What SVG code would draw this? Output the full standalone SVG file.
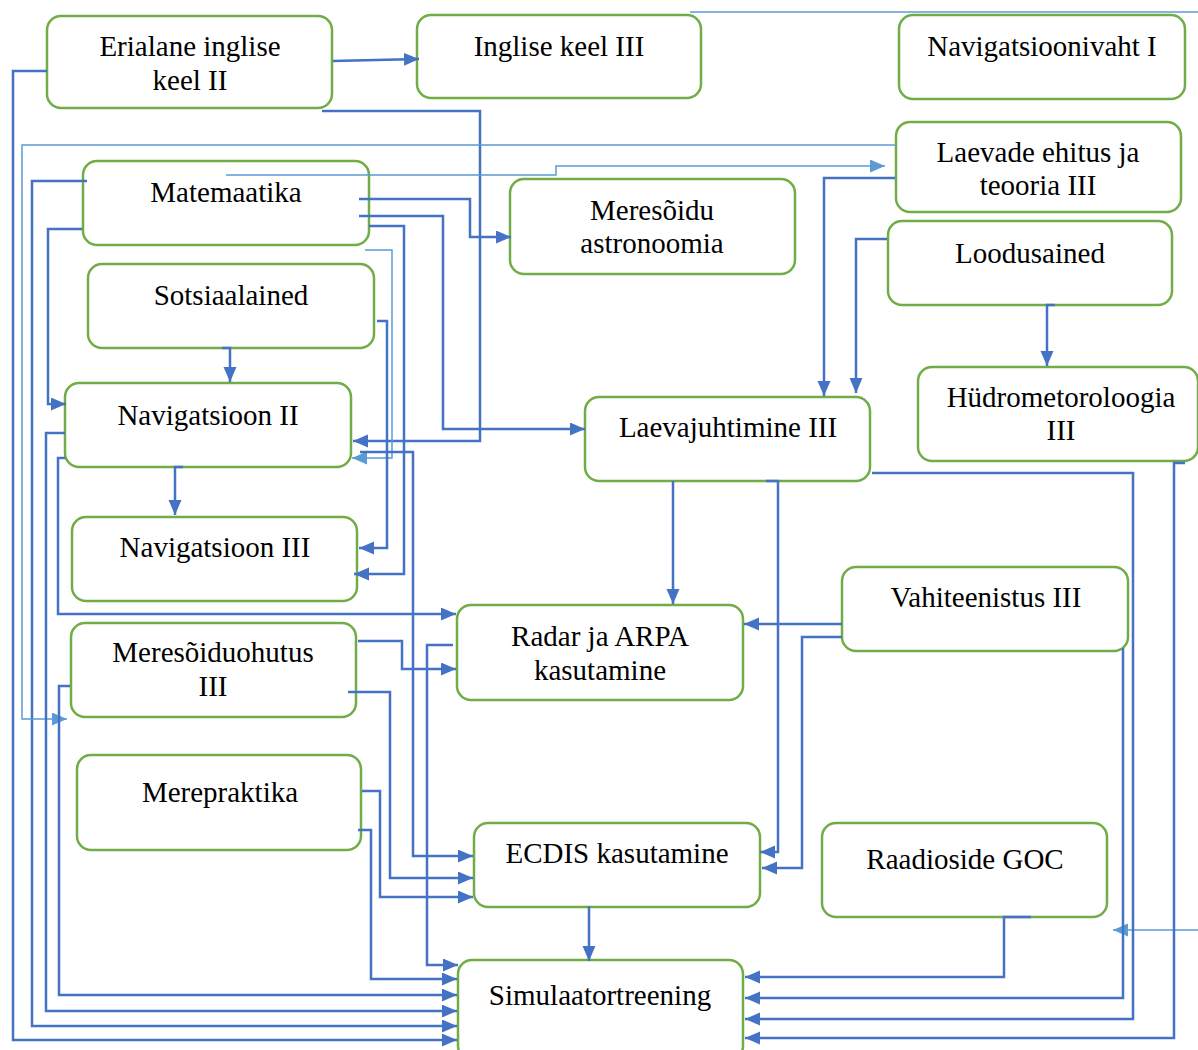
<svg xmlns="http://www.w3.org/2000/svg" width="1198" height="1050" viewBox="0 0 1198 1050">
<defs>
<style>
.node rect{fill:#fff;stroke:#70AD47;stroke-width:2.5}
.node text{font-family:"Liberation Serif","Times New Roman",serif;font-size:29px;fill:#000;text-anchor:middle}
.c{fill:none;stroke:#4472C4;stroke-width:2.5;marker-end:url(#ad)}
.cn{fill:none;stroke:#4472C4;stroke-width:2.5}
.l{fill:none;stroke:#5B9BD5;stroke-width:1.5;marker-end:url(#al)}
</style>
<marker id="ad" markerUnits="userSpaceOnUse" markerWidth="16" markerHeight="14" refX="15" refY="6.5" orient="auto"><path d="M0,0 L15,6.5 L0,13 z" fill="#4472C4"/></marker>
<marker id="al" markerUnits="userSpaceOnUse" markerWidth="16" markerHeight="14" refX="15" refY="6.5" orient="auto"><path d="M0,0 L15,6.5 L0,13 z" fill="#5B9BD5"/></marker>
</defs>
<rect width="1198" height="1050" fill="#fff"/>
<g id="n-erialane" class="node"><rect x="47" y="16" width="285" height="92" rx="14"/><text x="190" y="56">Erialane inglise</text><text x="190" y="90">keel II</text></g>
<g id="n-inglise3" class="node"><rect x="417" y="15" width="284" height="83" rx="14"/><text x="559" y="56">Inglise keel III</text></g>
<g id="n-navvaht" class="node"><rect x="899" y="15" width="286" height="84" rx="14"/><text x="1042" y="56">Navigatsioonivaht I</text></g>
<g id="n-laevade" class="node"><rect x="896" y="122" width="285" height="90" rx="14"/><text x="1038" y="162">Laevade ehitus ja</text><text x="1038" y="195">teooria III</text></g>
<g id="n-matemaatika" class="node"><rect x="83" y="161" width="286" height="84" rx="14"/><text x="226" y="202">Matemaatika</text></g>
<g id="n-astronoomia" class="node"><rect x="510" y="179" width="285" height="95" rx="14"/><text x="652" y="220">Meresõidu</text><text x="652" y="253">astronoomia</text></g>
<g id="n-loodusained" class="node"><rect x="888" y="221" width="284" height="84" rx="14"/><text x="1030" y="263">Loodusained</text></g>
<g id="n-sotsiaal" class="node"><rect x="88" y="264" width="286" height="84" rx="14"/><text x="231" y="305">Sotsiaalained</text></g>
<g id="n-nav2" class="node"><rect x="65" y="383" width="286" height="84" rx="14"/><text x="208" y="425">Navigatsioon II</text></g>
<g id="n-hudro" class="node"><rect x="918" y="367" width="280" height="94" rx="14"/><text x="1061" y="407">Hüdrometoroloogia</text><text x="1061" y="440">III</text></g>
<g id="n-laevajuht" class="node"><rect x="585" y="397" width="285" height="84" rx="14"/><text x="728" y="437">Laevajuhtimine III</text></g>
<g id="n-nav3" class="node"><rect x="72" y="517" width="285" height="84" rx="14"/><text x="215" y="557">Navigatsioon III</text></g>
<g id="n-ohutus" class="node"><rect x="71" y="623" width="285" height="94" rx="14"/><text x="213" y="662">Meresõiduohutus</text><text x="213" y="696">III</text></g>
<g id="n-radar" class="node"><rect x="457" y="605" width="286" height="95" rx="14"/><text x="600" y="646">Radar ja ARPA</text><text x="600" y="680">kasutamine</text></g>
<g id="n-vahiteenistus" class="node"><rect x="842" y="567" width="286" height="84" rx="14"/><text x="986" y="607">Vahiteenistus III</text></g>
<g id="n-merepraktika" class="node"><rect x="77" y="755" width="284" height="95" rx="14"/><text x="220" y="802">Merepraktika</text></g>
<g id="n-ecdis" class="node"><rect x="474" y="823" width="286" height="84" rx="14"/><text x="617" y="863">ECDIS kasutamine</text></g>
<g id="n-raadio" class="node"><rect x="822" y="823" width="285" height="94" rx="14"/><text x="965" y="869">Raadioside GOC</text></g>
<g id="n-sim" class="node"><rect x="458" y="960" width="285" height="100" rx="14"/><text x="600" y="1005">Simulaatortreening</text></g>
<g id="connectors">
<path class="c" d="M333,61 L419,59"/>
<path class="c" d="M47,71 H13 V1040 H457"/>
<path class="c" d="M322,111 H480 V441 H353"/>
<path class="c" d="M87,181 H32 V1026 H457"/>
<path class="c" d="M82,229 H48 V404 H66"/>
<path class="c" d="M359,199 H470 V237 H511"/>
<path class="c" d="M359,216 H443 V429 H585"/>
<path class="c" d="M369,226 H404 V574 H354"/>
<path class="l" d="M365,250 H392 V458 H352"/>
<path class="l" d="M226,175 H556 V166 H885"/>
<path class="l" d="M897,145 H22 V719 H67"/>
<path class="l" d="M690,12 H1215 V930 H1113"/>
<path class="c" d="M222,348 H230 V382"/>
<path class="c" d="M377,321 H387 V548 H359"/>
<path class="c" d="M183,467 H175 V515"/>
<path class="c" d="M65,433 H46 V1011 H457"/>
<path class="c" d="M65,458 H58 V614 H456"/>
<path class="c" d="M360,452 H413 V856 H473"/>
<path class="c" d="M895,178 H824 V396"/>
<path class="c" d="M887,239 H856 V393"/>
<path class="c" d="M1055,305 H1047 V366"/>
<path class="c" d="M673,481 V604"/>
<path class="c" d="M766,481 H778 V852 H760"/>
<path class="c" d="M872,473 H1133 V1019 H745"/>
<path class="c" d="M1185,463 H1174 V1038 H745"/>
<path class="c" d="M358,641 H402 V669 H456"/>
<path class="c" d="M348,692 H390 V878 H473"/>
<path class="c" d="M70,686 H59 V995 H457"/>
<path class="c" d="M453,645 H427 V965 H458"/>
<path class="c" d="M842,624 H744"/>
<path class="c" d="M842,637 H802 V868 H762"/>
<path class="c" d="M1123,648 V998 H745"/>
<path class="c" d="M362,791 H380 V897 H473"/>
<path class="c" d="M358,830 H371 V979 H457"/>
<path class="c" d="M589,906 V961"/>
<path class="c" d="M1031,917 H1004 V977 H745"/>
</g>
</svg>
